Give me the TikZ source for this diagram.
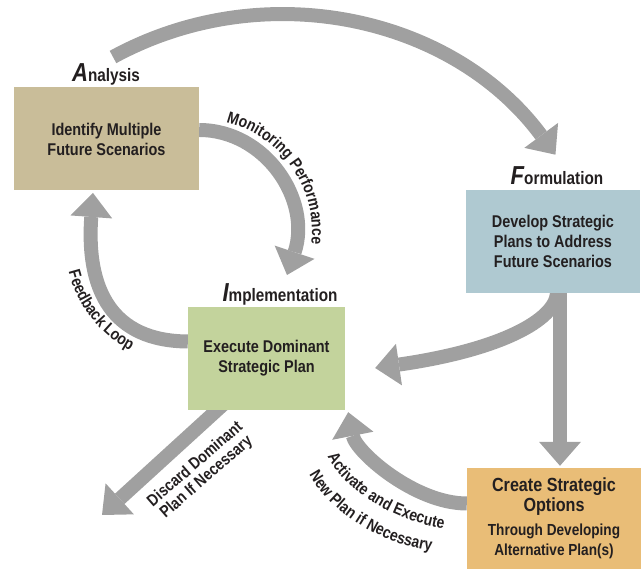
\documentclass[tikz,border=0pt]{standalone}
\usepackage{fontspec}
\setmainfont{Liberation Sans}
\newfontfamily\condfont{Liberation Sans}[FakeStretch=0.85]
\usetikzlibrary{arrows.meta,calc,decorations.text}
\pgfdeclarelayer{background}
\pgfsetlayers{background,main}
\definecolor{anatan}{RGB}{201,189,153}
\definecolor{formblue}{RGB}{175,201,209}
\definecolor{implgreen}{RGB}{195,211,156}
\definecolor{creaorange}{RGB}{233,189,119}
\definecolor{flowgray}{RGB}{160,160,160}
\definecolor{inkdark}{RGB}{35,31,32}
\newcommand{\flowfont}{\condfont\bfseries\fontsize{16.5}{17}\selectfont}
\newcommand{\bigline}{\fontsize{19}{20}\selectfont}
\newcommand{\smallline}{\fontsize{16}{21}\selectfont}
\newcommand{\phasehead}[2]{{\fontsize{26}{26}\selectfont\itshape #1}#2}
\tikzset{
  phasebox/.style={minimum width=174pt,minimum height=103pt,inner sep=0pt,align=center,
    text=inkdark,font=\condfont\bfseries\fontsize{17}{20}\selectfont},
  phasetitle/.style={anchor=base,inner sep=0pt,text=inkdark,
    font=\condfont\bfseries\fontsize{18}{18}\selectfont},
  flow/.style={draw=flowgray,line width=14pt,-{Triangle[width=42pt,length=24pt,line width=0pt]}},
  flowlabel/.style={inner sep=0pt,align=center,text=inkdark,font=\flowfont},
}
\begin{document}
\begin{tikzpicture}[x=1pt,y=1pt]
  \useasboundingbox (0,-569) rectangle (641,0);
  % 四つの箱
  \node[phasebox,fill=anatan,minimum width=185pt] (ana) at (106.5,-139) {Identify Multiple\\Future Scenarios};
  \node[phasebox,fill=formblue] (form) at (553,-241.5) {Develop Strategic\\Plans to Address\\Future Scenarios};
  \node[phasebox,fill=implgreen,minimum width=157pt] (impl) at (266.5,-358.5) {Execute Dominant\\Strategic Plan};
  \node[phasebox,fill=creaorange,minimum height=101pt] (crea) at (554,-518.5)
    {\bigline Create Strategic\\\bigline Options\\[4pt]\smallline Through Developing\\\smallline Alternative Plan(s)};
  % 見出し
  \node[phasetitle] (anahead) at (106,-82) {\phasehead{A}{nalysis}};
  \node[phasetitle] (formhead) at (557,-185) {\phasehead{F}{ormulation}};
  \node[phasetitle] (implhead) at (280,-302) {\phasehead{I}{mplementation}};
  % 矢印の端点
  \coordinate (sweep) at (113,-57);
  \coordinate (moncen) at (199,-232);
  \coordinate (montip) at (287,-275);
  \coordinate (fbcen) at (188,-242);
  \coordinate (fbtip) at (93,-193);
  \coordinate (impltip) at ($(impl.east)+(30,-9.5)$);
  \coordinate (acttip) at ($(impl.south east)+(3,-2)$);
  \coordinate (distip) at (102,-515);
  % 矢印
  \begin{pgfonlayer}{background}
    \draw[flow] (sweep) arc[start angle=118.6,end angle=36.5,radius=345];
    \draw[flow] ($(ana.east)+(0,9)$) .. controls +(66,0) and (312,-200) .. (montip);
    \draw[flow] ($(impl.west)+(0,17)$) .. controls (112,-341) and (86,-290) .. (fbtip);
    \draw[flow] ($(form.south)+(4,0)$) .. controls +(-2,-27) and +(125,18) .. (impltip);
    \draw[flow] ($(form.south)+(7,0)$) -- ($(crea.north)+(6,2)$);
    \draw[flow] ($(crea.west)+(0,15)$) .. controls +(-52,0) and (356,-452) .. (acttip);
    \draw[flow] ($(impl.south)+(-43,6)$) -- (distip);
  \end{pgfonlayer}
  % 矢印のラベル
  \path[decorate,decoration={text along path,text align=center,
    text={|\flowfont\color{inkdark}|Monitoring Performance}}]
    ($(moncen)+(82:113)$) arc[start angle=82,end angle=-12,radius=113];
  \path[decorate,decoration={text along path,text align=center,
    text={|\flowfont\color{inkdark}|Feedback Loop}}]
    ($(fbcen)+(184:123)$) arc[start angle=184,end angle=252,radius=123];
  \path[decorate,decoration={text along path,text align=center,
    text={|\flowfont\color{inkdark}|Activate and Execute}}]
    (322,-442) .. controls (331,-482) and (391,-526) .. (459,-530);
  \path[decorate,decoration={text along path,text align=center,
    text={|\flowfont\color{inkdark}|New Plan if Necessary}}]
    (302,-455) .. controls (311,-500) and (376,-550) .. (452,-553);
  \node[flowlabel,rotate=41] (discard) at (201,-471) {Discard Dominant\\Plan If Necessary};
\end{tikzpicture}
\end{document}
